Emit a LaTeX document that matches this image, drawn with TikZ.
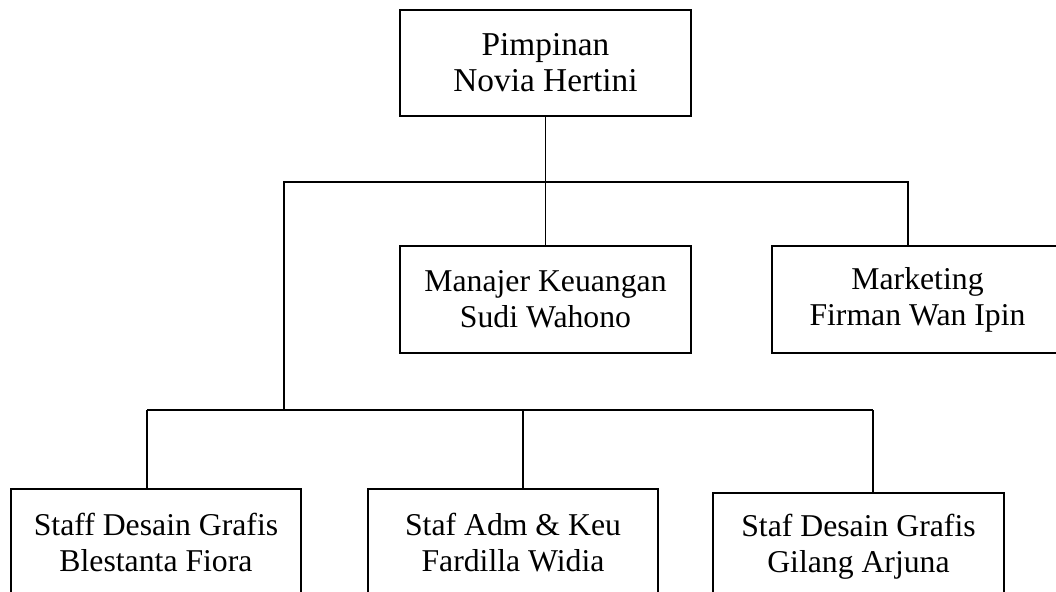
\documentclass[tikz,border=0pt]{standalone}
\usepackage{fontspec}
\setmainfont{Liberation Serif}
\begin{document}
\begin{tikzpicture}[x=0.75pt,y=-0.75pt,
	box/.style={draw,line width=1.4pt,minimum width=218pt,minimum height=80pt,align=center,inner sep=0pt,font=\fontsize{23.8}{27}\selectfont},
	link/.style={line width=1.4pt}]
	            \useasboundingbox (0,0) rectangle (1056,592);
	            \node[box,minimum height=79.5pt,font=\fontsize{25}{27}\selectfont] at (545.5,63) (pim) {Pimpinan\\Novia Hertini};
	            \node[box] at (545.5,299.5) (mk) {Manajer Keuangan\\Sudi Wahono};
	            \node[box] at (917.5,299.5) (mkt) {Marketing\\Firman Wan Ipin};
	            \node[box] at (156,542.5) (sd1) {Staff Desain Grafis\\Blestanta Fiora};
	            \node[box] at (513,542.5) (adm) {Staf Adm \& Keu\\Fardilla Widia};
	            \node[box] at (858.5,546.5) (sd2) {Staf Desain Grafis\\Gilang Arjuna};
	            \coordinate (ja) at (284,182);
	            \coordinate (jb) at (908,182);
	            \coordinate (jc) at (284,410);
	            \coordinate (s1) at (147,410);
	            \coordinate (s2) at (523,410);
	            \coordinate (s3) at (873,410);
	            \draw[link] (pim) -- (mk);
	            \draw[link] (jc) -- (ja) -- (jb) -- (jb |- mkt.north);
	            \draw[link] (s1) -- (s3);
	            \draw[link] (s1) -- (s1 |- sd1.north);
	            \draw[link] (s2) -- (s2 |- adm.north);
	            \draw[link] (s3) -- (s3 |- sd2.north);
            \end{tikzpicture}
\end{document}
